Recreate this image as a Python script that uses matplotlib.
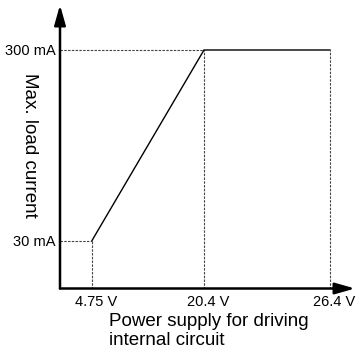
import numpy as np
import matplotlib
matplotlib.use("Agg")
import matplotlib.pyplot as plt
from matplotlib.transforms import ScaledTranslation

plt.rcParams['font.family'] = ['Liberation Sans', 'DejaVu Sans']

# Characteristic: max load current vs. internal supply voltage
volt = [4.75, 20.4, 26.4]          # V
current = [30, 300, 300]           # mA
volt_ticks = [4.75, 20.4, 26.4]
volt_labels = ["4.75 V", "20.4 V", "26.4 V"]
cur_ticks = [30, 300]
cur_labels = ["30 mA", "300 mA"]

# schematic (non-proportional) spacing of the axes
X_DATA = [0, 4.75, 20.4, 26.4, 30]
X_POS = [0, 32, 144, 270, 295]
Y_DATA = [0, 30, 300, 340]
Y_POS = [0, 48, 238.5, 283.5]

def fwd(d, p):
    return lambda v: np.interp(v, d, p)

fig = plt.figure(figsize=(3.6, 3.53), dpi=100)
ax = fig.add_axes([60 / 360, (353 - 288.5) / 353, 295 / 360, 283.5 / 353])
ax.set_xscale('function', functions=(fwd(X_DATA, X_POS), fwd(X_POS, X_DATA)))
ax.set_yscale('function', functions=(fwd(Y_DATA, Y_POS), fwd(Y_POS, Y_DATA)))
ax.set_xlim(0, 30)
ax.set_ylim(0, 340)

for s in ax.spines.values():
    s.set_visible(False)

# axes with arrow heads
arw = dict(arrowstyle='-|>,head_length=0.6,head_width=0.17', lw=1.8,
           color='black', shrinkA=0, shrinkB=0, mutation_scale=20)
ax.annotate('', xy=(1, 0), xytext=(0, 0), xycoords='axes fraction',
            arrowprops=arw, annotation_clip=False)
ax.annotate('', xy=(0, 1), xytext=(0, 0), xycoords='axes fraction',
            arrowprops=arw, annotation_clip=False)

# guide lines
dash = dict(color='#444444', lw=0.8, ls=(0, (2.2, 1.2)))
for v, c in zip(volt, current):
    ax.plot([v, v], [0, c], **dash)
ax.plot([0, volt[0]], [current[0], current[0]], **dash)
ax.plot([0, volt[1]], [current[1], current[1]], **dash)

ax.plot(volt, current, color='black', lw=1.0, solid_joinstyle='miter')

ax.set_xticks(volt_ticks)
ax.set_xticklabels(volt_labels)
ax.set_yticks(cur_ticks)
ax.set_yticklabels(cur_labels)
ax.tick_params(length=0, labelsize=10.5, pad=5)
ax.tick_params(axis='y', pad=3)
off = ScaledTranslation(4 / 100, 0, fig.dpi_scale_trans)
for lbl in ax.get_xticklabels():
    lbl.set_transform(lbl.get_transform() + off)

ax.set_ylabel("Max. load current", fontsize=13.5, rotation=270,
              va='center', ha='center')
ax.yaxis.set_label_coords(-0.105, 0.505)
ax.text(0.166, -0.086, "Power supply for driving\ninternal circuit",
        transform=ax.transAxes, fontsize=13.5, ha='left', va='top',
        linespacing=1.15)

fig.savefig("out.png", dpi=100)
